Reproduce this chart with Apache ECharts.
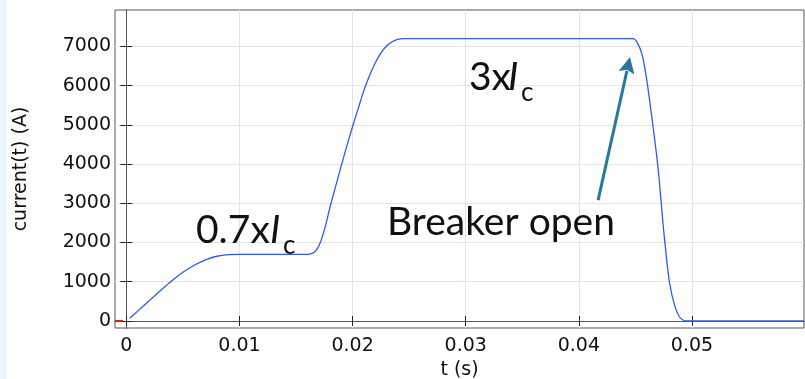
<!DOCTYPE html>
<html>
<head>
<meta charset="utf-8">
<script src="https://cdn.jsdelivr.net/npm/echarts@6/dist/echarts.min.js"></script>
<style>html,body{margin:0;padding:0;background:#fff;}#c{width:805px;height:379px;}</style>
</head>
<body>
<div id="c"></div>
<script>
// ---- data ----
const tBlue = [0.0003,0.001,0.002,0.003,0.004,0.005,0.006,0.007,0.008,0.009,0.010,
  0.013,0.0160,0.0163,0.0166,0.0169,0.0172,0.0176,0.0180,0.0185,0.0190,0.0195,0.0200,0.0205,
  0.0210,0.0215,0.0220,0.0225,0.0230,0.0235,0.0240,0.0245,0.030,0.035,0.040,0.0448,
  0.0452,0.0456,0.0460,0.0465,0.0470,0.0475,0.0480,0.0485,0.0489,0.0492,0.0495,0.055,0.0599];
const iBlue = [69,250,510,770,1020,1240,1420,1560,1650,1690,1700,
  1700,1700,1710,1750,1850,2040,2420,2900,3430,3960,4470,4960,5420,
  5880,6260,6580,6830,7010,7120,7180,7200,7200,7200,7200,7200,
  7080,6780,6150,5080,3900,2300,1000,360,100,25,0,0,0];
const tRed = [-0.001,-0.0003];
const iRed = [0,0];
const xTicks = [0,0.01,0.02,0.03,0.04,0.05];
const xTickLabels = ['0','0.01','0.02','0.03','0.04','0.05'];
const yTicks = [0,1000,2000,3000,4000,5000,6000,7000];
const yTickLabels = ['0','1000','2000','3000','4000','5000','6000','7000'];
const arrowFrom = [0.0417,3080];
const arrowTo = [0.04452,6730];
const xName = 't (s)';
const yName = 'current(t) (A)';

const chart = echarts.init(document.getElementById('c'), null, {renderer:'canvas'});
const tickFont = {fontFamily:'DejaVu Sans', fontSize:19, color:'#111'};
const gridLine = {show:true, lineStyle:{color:'#e4e4e4', width:1}};
const axLine = {show:true, lineStyle:{color:'#555', width:1}};
const xLab = v => { const k = xTicks.findIndex(a => Math.abs(a - v) < 1e-9); return k >= 0 ? xTickLabels[k] : ''; };
const yLab = v => { const k = yTicks.findIndex(a => Math.abs(a - v) < 1e-6); return k >= 0 ? yTickLabels[k] : ''; };

chart.setOption({
  animation:false,
  backgroundColor:'#ffffff',
  grid:{left:115, top:10, right:1, bottom:51, show:true, borderColor:'#555', borderWidth:1,
        containLabel:false, outerBoundsMode:'none'},
  xAxis:[{
    type:'value', min:-0.001, max:0.0599, position:'bottom',
    name:xName, nameLocation:'middle', nameGap:32,
    nameTextStyle:{fontFamily:'DejaVu Sans', fontSize:19, color:'#111'},
    axisLine:axLine,
    axisTick:{show:true, inside:true, length:5, customValues:xTicks, lineStyle:{color:'#222'}},
    axisLabel:Object.assign({margin:9, customValues:xTicks, formatter:xLab}, tickFont),
    splitLine:gridLine
  },{
    type:'value', min:-0.001, max:0.0599, position:'top',
    axisLine:axLine,
    axisTick:{show:true, inside:true, length:5, customValues:xTicks, lineStyle:{color:'#222'}},
    axisLabel:{show:false}, splitLine:{show:false}
  }],
  yAxis:[{
    type:'value', min:-180, max:7930, position:'left',
    name:yName, nameLocation:'middle', nameGap:84,
    nameTextStyle:{fontFamily:'DejaVu Sans', fontSize:19, color:'#111'},
    axisLine:axLine,
    axisTick:{show:true, inside:true, length:6, customValues:yTicks, lineStyle:{color:'#222'}},
    axisLabel:Object.assign({margin:4, customValues:yTicks, formatter:yLab}, tickFont),
    splitLine:gridLine
  },{
    type:'value', min:-180, max:7930, position:'right',
    axisLine:axLine,
    axisTick:{show:true, inside:true, length:6, customValues:yTicks, lineStyle:{color:'#222'}},
    axisLabel:{show:false}, splitLine:{show:false}
  }],
  series:[{
    type:'line', xAxisIndex:0, yAxisIndex:0,
    data:tBlue.map((t,i)=>[t,iBlue[i]]),
    showSymbol:false, smooth:0.3,
    lineStyle:{color:'#3358f0', width:1.3},
    z:3
  },{
    type:'line', xAxisIndex:0, yAxisIndex:0,
    data:tRed.map((t,i)=>[t,iRed[i]]),
    showSymbol:false,
    lineStyle:{color:'#d62020', width:2},
    z:4
  }]
});

// arrow annotation built from data coordinates
const p0 = chart.convertToPixel({xAxisIndex:0, yAxisIndex:0}, arrowFrom);
const p1 = chart.convertToPixel({xAxisIndex:0, yAxisIndex:0}, arrowTo);
const dx = p1[0]-p0[0], dy = p1[1]-p0[1], L = Math.hypot(dx,dy);
const ux = dx/L, uy = dy/L, nx = -uy, ny = ux;
const headLen = 16, headW = 8;
const bx = p1[0]-ux*headLen, by = p1[1]-uy*headLen;
const arrowColor = '#27789a';

chart.setOption({
  graphic:[
    {type:'rect', left:0, top:0, shape:{width:7, height:379}, style:{fill:'#eef4fb'}, silent:true},
    {type:'line', shape:{x1:p0[0], y1:p0[1], x2:bx+ux*2, y2:by+uy*2}, style:{stroke:arrowColor, lineWidth:3}, z:10},
    {type:'polygon', shape:{points:[[p1[0],p1[1]],[bx+nx*headW,by+ny*headW],[bx+ux*3,by+uy*3],[bx-nx*headW,by-ny*headW]]}, style:{fill:arrowColor}, z:10},
    {type:'text', x:196, y:230, style:{text:'0.7x', font:'39px Lato', fill:'#111', align:'left', verticalAlign:'middle'}},
    {type:'text', x:270, y:230, style:{text:'I', font:'italic 39px Lato', fill:'#111', align:'left', verticalAlign:'middle'}},
    {type:'text', x:283, y:246, style:{text:'c', font:'26px Lato', fill:'#111', align:'left', verticalAlign:'middle'}},
    {type:'text', x:469, y:77, style:{text:'3x', font:'39px Lato', fill:'#111', align:'left', verticalAlign:'middle'}},
    {type:'text', x:508, y:77, style:{text:'I', font:'italic 39px Lato', fill:'#111', align:'left', verticalAlign:'middle'}},
    {type:'text', x:521, y:93, style:{text:'c', font:'26px Lato', fill:'#111', align:'left', verticalAlign:'middle'}},
    {type:'text', x:387, y:222, style:{text:'Breaker open', font:'39px Lato', fill:'#111', align:'left', verticalAlign:'middle'}}
  ]
});
</script>
</body>
</html>
